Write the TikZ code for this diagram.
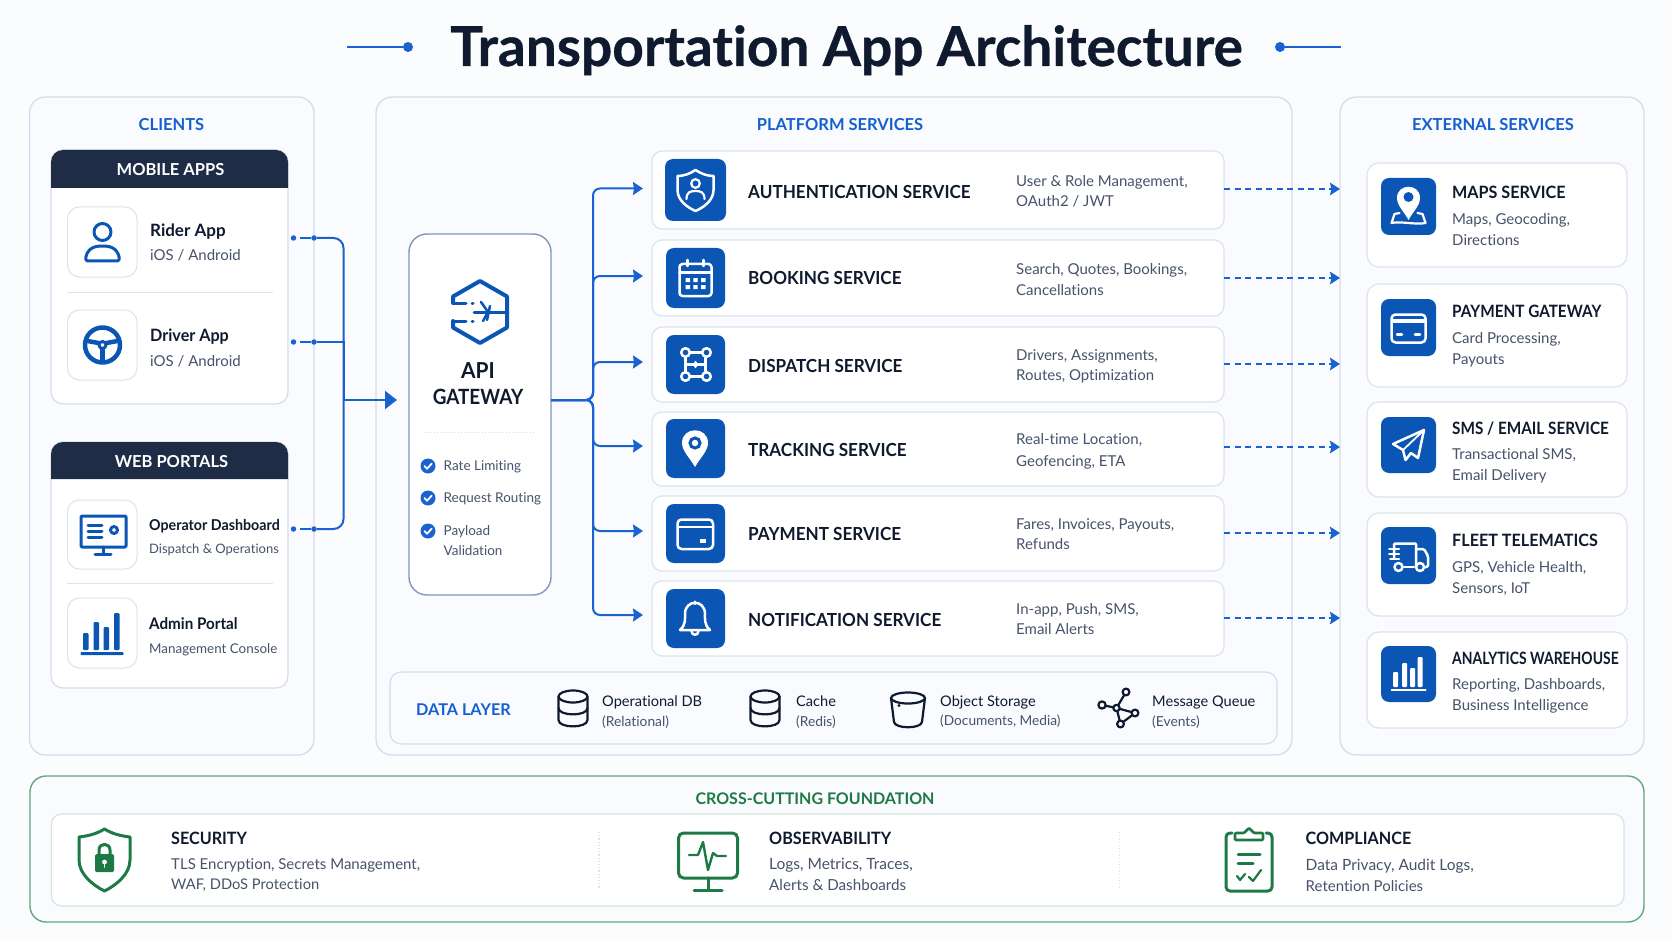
\documentclass[tikz,border=0pt]{standalone}
\usepackage{fontspec}
\setmainfont{Lato}[Ligatures=NoCommon]
\newfontfamily\cnd{Lato}[Ligatures=NoCommon,FakeStretch=0.95]
\newfontfamily\cndb{Lato}[Ligatures=NoCommon,FakeStretch=0.9]
\newfontfamily\cndc{Lato}[Ligatures=NoCommon,FakeStretch=0.82]
\newfontfamily\heavy{Lato}[Ligatures=NoCommon,FakeBold=0.6]
\usetikzlibrary{arrows.meta,calc}
\definecolor{pagebg}{HTML}{FBFCFE}
\definecolor{panelbg}{HTML}{F9FBFE}
\definecolor{panelln}{HTML}{D5DCEA}
\definecolor{cardln}{HTML}{DDE2EE}
\definecolor{iconblue}{HTML}{0B55B5}
\definecolor{linkblue}{HTML}{1A62D0}
\definecolor{headblue}{HTML}{1560D0}
\definecolor{ink}{HTML}{0F1A2E}
\definecolor{slate}{HTML}{47526B}
\definecolor{hdrnavy}{HTML}{1E2D45}
\definecolor{gwln}{HTML}{7F96C0}
\definecolor{green}{HTML}{1E7A45}
\definecolor{greenln}{HTML}{62A77F}
\definecolor{greenin}{HTML}{D6E5DE}
\newcounter{tc}
\newcommand\txtw[6]{\stepcounter{tc}\node[anchor=base west,inner sep=0pt,text=#4,font={\fontsize{#3}{#3}\selectfont #5}] (t\arabic{tc}) at (#1,{#2+0.4*#3}) {#6};}
\newcommand\txtc[6]{\stepcounter{tc}\node[anchor=base,inner sep=0pt,text=#4,font={\fontsize{#3}{#3}\selectfont #5}] (t\arabic{tc}) at (#1,{#2+0.4*#3}) {#6};}
\newcommand\boxn[6]{\node[#6,minimum width={(#4-#2)*1pt},minimum height={(#5-#3)*1pt}] (#1) at ({(#2+#4)/2},{(#3+#5)/2}) {};}
\newcommand\svc[5]{% name, y1,y2, title, title y
 \boxn{#1}{652}{#2}{1224}{#3}{cardbox,rounded corners=10pt}
 \txtw{748}{#5}{18}{ink}{\cnd\bfseries}{#4}}
\newcommand\dsc[2]{\txtw{1016}{#1}{15}{slate}{}{#2}}
\newcommand\extdy{13}
\newcommand\ext[9]{% name,y1,y2,iy1,iy2,title,d1,d2,offset base
 \boxn{#1}{1367}{#2}{1627}{#3}{cardbox,rounded corners=12pt}
 \boxn{#1i}{1381}{#4}{1436}{#5}{iconbox}
 \txtw{1452}{#4+\extdy}{17}{ink}{\cnd\bfseries}{#6}
 \txtw{1452}{#4+#9}{15}{slate}{}{#7}
 \txtw{1452}{#4+#9+21}{15}{slate}{}{#8}}
\newcommand\bluecyl[1]{\begin{scope}[shift={(#1)},dk]
 \draw (0,-11.5) ellipse [x radius=14.5,y radius=6];
 \draw (-14.5,-11.5) -- (-14.5,12) .. controls (-14.5,20.5) and (14.5,20.5) .. (14.5,12) -- (14.5,-11.5);
 \draw (-14.5,0) .. controls (-14.5,8.5) and (14.5,8.5) .. (14.5,0);
\end{scope}}
\tikzset{
 panel/.style={draw=panelln,fill=panelbg,line width=1.3pt,rounded corners=16pt,inner sep=0pt,outer sep=0pt},
 cardbox/.style={draw=cardln,fill=white,line width=1.2pt,inner sep=0pt,outer sep=0pt},
 appbox/.style={draw=cardln,fill=white,line width=1pt,rounded corners=12pt,inner sep=0pt,outer sep=0pt},
 iconbox/.style={fill=iconblue,rounded corners=8pt,inner sep=0pt,outer sep=0pt},
 flow/.style={draw=linkblue,line width=2pt},
 tipA/.style={-{Stealth[length=10pt,width=13pt,inset=1pt]}},
 dashflow/.style={draw=linkblue,line width=1.9pt,dash pattern=on 6pt off 4.5pt,-{Stealth[length=10pt,width=12.5pt,inset=1.5pt]}},
 dotn/.style={circle,fill=linkblue,inner sep=0pt,minimum size=5.5pt,outer sep=0pt},
 bl/.style={draw=iconblue,line width=3pt,line cap=round,line join=round},
 wh/.style={draw=white,line width=2.5pt,line cap=round,line join=round},
 dk/.style={draw=ink,line width=2.2pt,line cap=round,line join=round},
 gr/.style={draw=green,line width=3pt,line cap=round,line join=round},
}
\begin{document}
\begin{tikzpicture}[x=1pt,y=-1pt]
\useasboundingbox (0,0) rectangle (1672,941);
\fill[pagebg] (0,0) rectangle (1672,941);
% title
\txtc{846.5}{44}{55}{ink}{\heavy\bfseries}{Transportation App Architecture}
\node[circle,fill=linkblue,inner sep=0pt,minimum size=10pt] (tl) at (408,47) {};
\node[circle,fill=linkblue,inner sep=0pt,minimum size=10pt] (tr) at (1280,47) {};
\coordinate (tle) at (347,47); \coordinate (tre) at (1341,47);
\draw[flow] (tle) -- (tl); \draw[flow] (tr) -- (tre);
% panels
\boxn{clients}{29.5}{97}{314}{755}{panel}
\boxn{platform}{376}{97}{1292}{755}{panel}
\boxn{external}{1340}{97}{1644}{755}{panel}
\txtc{171.5}{124}{16.5}{headblue}{\bfseries}{CLIENTS}
\txtc{840}{124}{16.5}{headblue}{\bfseries}{PLATFORM SERVICES}
\txtc{1493}{124}{16.5}{headblue}{\bfseries}{EXTERNAL SERVICES}
% mobile
\boxn{mobile}{51}{150}{288}{404}{draw=panelln,fill=white,line width=1.2pt,rounded corners=12pt,inner sep=0pt}
\fill[hdrnavy] (51,188) {[rounded corners=12pt] -- (51,150) -- (288,150)} -- (288,188) -- cycle;
\txtc{170.5}{169}{16.5}{white}{\bfseries}{MOBILE APPS}
\boxn{rider}{67.5}{207}{137}{277}{appbox}
\boxn{driver}{67.5}{310}{137}{380}{appbox}
\draw[draw=cardln,line width=1pt] (67,292) -- (273,292);
\txtw{150}{230}{17}{ink}{\bfseries}{Rider App}
\txtw{150}{255}{15}{slate}{}{iOS / Android}
\txtw{150}{335}{17}{ink}{\cnd\bfseries}{Driver App}
\txtw{150}{360}{15}{slate}{}{iOS / Android}
% web
\boxn{web}{51}{442}{288}{688}{draw=panelln,fill=white,line width=1.2pt,rounded corners=12pt,inner sep=0pt}
\fill[hdrnavy] (51,479) {[rounded corners=12pt] -- (51,442) -- (288,442)} -- (288,479) -- cycle;
\txtc{171.5}{461}{16.5}{white}{\bfseries}{WEB PORTALS}
\boxn{oper}{67.5}{500}{137}{569}{appbox}
\boxn{admin}{67.5}{598}{137}{668}{appbox}
\draw[draw=cardln,line width=1pt] (67,583) -- (273,583);
\txtw{149}{524.5}{15}{ink}{\cnd\bfseries}{Operator Dashboard}
\txtw{149}{548}{13}{slate}{}{Dispatch \& Operations}
\txtw{149}{623}{16}{ink}{\cnd\bfseries}{Admin Portal}
\txtw{149}{648}{13.4}{slate}{}{Management Console}
% client icons
\begin{scope}[shift={(102.5,242)},bl]
 \draw (0,-10) circle [radius=8.5];
 \draw (-15,19) -- (15,19) .. controls (18,19) and (17,12) .. (13,8) .. controls (10,5) and (6,4) .. (0,4) .. controls (-6,4) and (-10,5) .. (-13,8) .. controls (-17,12) and (-18,19) .. (-15,19) -- cycle;
\end{scope}
\begin{scope}[shift={(102.5,345)},bl]
 \draw[line width=4.5pt] (0,0) circle [radius=17.5];
 \draw (0,0) circle [radius=3.5];
 \draw[line width=4.5pt] (-15,-4) -- (-4,-2); \draw[line width=4.5pt] (15,-4) -- (4,-2); \draw[line width=4.5pt] (0,5) -- (0,15);
\end{scope}
\begin{scope}[bl]
 \draw[rounded corners=1pt] (81,516) rectangle (126,547);
 \draw (103,547) -- (103,553); \draw (95,554.5) -- (111,554.5);
 \draw (88,525) -- (102,525); \draw (88,531) -- (102,531); \draw (88,537) -- (102,537);
 \draw (114,530) circle [radius=3.5];
\end{scope}
\fill[iconblue,rounded corners=1pt] (83,633) rectangle (88.5,650) (93.5,622) rectangle (99,650) (103.5,627) rectangle (109,650) (114,613) rectangle (119.5,650);
\fill[iconblue,rounded corners=1pt] (80.5,652) rectangle (123.5,655);
% gateway
\boxn{gw}{409}{234}{551}{595}{draw=gwln,fill=white,line width=1.4pt,rounded corners=18pt,inner sep=0pt,outer sep=0pt}
\begin{scope}[shift={(480,312)},bl,line width=4pt]
 \draw (-27,-9) -- (-27,-15.5) -- (0,-31) -- (27,-15.5) -- (27,15.5) -- (0,31) -- (-27,15.5) -- (-27,9);
 \draw[line width=3pt] (-27,-9) -- (-14,-9); \draw[line width=3pt] (-27,9) -- (-14,9);
 \draw[line width=3pt] (-8,-9) -- (-7,-9); \draw[line width=3pt] (-8,9) -- (-7,9);
 \draw[line width=3pt] (-6,0) -- (27,0);
 \draw[line width=2.5pt] (1,-10) -- (8,0) -- (3,9); \draw[line width=2.5pt] (10,-6) -- (7,8);
\end{scope}
\txtc{478}{370}{22}{ink}{\cnd\bfseries}{API}
\txtc{478}{396}{21}{ink}{\cndb\bfseries}{GATEWAY}
\draw[draw=panelln,line width=1pt,dotted] (425,432) -- (534,432);
\foreach \yy/\nn in {466/c1,498/c2,531/c3}{
 \node[circle,fill=linkblue,inner sep=0pt,minimum size=15pt] (\nn) at (428,\yy) {};
 \draw[white,line width=1.8pt,line cap=round,line join=round] (424.5,\yy) -- (427,\yy+2.8) -- (431.8,\yy-2.5);
}
\txtw{443.5}{465.5}{13.5}{slate}{}{Rate Limiting}
\txtw{443.5}{497.5}{13.5}{slate}{}{Request Routing}
\txtw{443.5}{530.5}{13.5}{slate}{}{Payload}
\txtw{443.5}{550}{13.5}{slate}{}{Validation}
% services
\svc{auth}{151}{229}{AUTHENTICATION SERVICE}{191}
\dsc{181}{User \& Role Management,}\dsc{201}{OAuth2 / JWT}
\svc{book}{240}{316}{BOOKING SERVICE}{277}
\dsc{268.5}{Search, Quotes, Bookings,}\dsc{289}{Cancellations}
\svc{disp}{327}{402}{DISPATCH SERVICE}{365}
\dsc{354}{Drivers, Assignments,}\dsc{374.5}{Routes, Optimization}
\svc{track}{412}{486}{TRACKING SERVICE}{449}
\dsc{438.5}{Real-time Location,}\dsc{460}{Geofencing, ETA}
\svc{pay}{496}{571}{PAYMENT SERVICE}{533}
\dsc{523}{Fares, Invoices, Payouts,}\dsc{543.5}{Refunds}
\svc{notif}{581}{656}{NOTIFICATION SERVICE}{619}
\dsc{608}{In-app, Push, SMS,}\dsc{628.5}{Email Alerts}
\boxn{authi}{665}{159}{726}{221}{iconbox}
\boxn{booki}{666}{248}{725}{308}{iconbox}
\boxn{dispi}{666}{335}{725}{394}{iconbox}
\boxn{tracki}{666}{419}{725}{478}{iconbox}
\boxn{payi}{666}{504}{725}{563}{iconbox}
\boxn{notifi}{666}{589}{725}{648}{iconbox}
% service icons
\begin{scope}[shift={(695.5,190)},wh]
 \draw (0,-20) .. controls (6,-16) and (12,-14) .. (18,-14) -- (18,0) .. controls (18,10) and (9,17) .. (0,21) .. controls (-9,17) and (-18,10) .. (-18,0) -- (-18,-14) .. controls (-12,-14) and (-6,-16) .. (0,-20) -- cycle;
 \draw[line width=2.2pt] (0,-6.5) circle [radius=4.3];
 \draw[line width=2.2pt] (-9,9) .. controls (-9,2) and (-5,1) .. (0,1) .. controls (5,1) and (9,2) .. (9,9);
\end{scope}
\begin{scope}[shift={(695.5,278)},wh]
 \draw[rounded corners=3pt] (-16,-14) rectangle (16,18);
 \draw (-16,-5.5) -- (16,-5.5);
 \draw (-8,-18) -- (-8,-12); \draw (8,-18) -- (8,-12);
 \fill[white] (-10,0) rectangle (-5.5,4) (-2.2,0) rectangle (2.2,4) (5.5,0) rectangle (10,4) (-10,7) rectangle (-5.5,11) (-2.2,7) rectangle (2.2,11) (5.5,7) rectangle (10,11);
\end{scope}
\begin{scope}[shift={(695.5,364.5)},wh]
 \draw (-5,-12) -- (6,-12); \draw (-5,12) -- (6,12);
 \draw (-10,-7) -- (-10,7); \draw (10,-7) -- (10,7);
 \draw (-10,0) -- (10,0); \draw[line width=3.5pt] (0,-2) -- (0,2);
 \draw (-10,-12) circle [radius=4.3]; \draw (11,-12) circle [radius=4.3];
 \draw (-10,12) circle [radius=4.3]; \draw (11,12) circle [radius=4.3];
\end{scope}
\begin{scope}[shift={(695,443)}]
 \fill[white] (0,24) .. controls (-5,15) and (-13,8) .. (-13,0) .. controls (-13,-17) and (13,-17) .. (13,0) .. controls (13,8) and (5,15) .. (0,24) -- cycle;
 \draw[iconblue,line width=3pt] (0,0) circle [radius=5];
\end{scope}
\begin{scope}[wh]
 \draw[rounded corners=4pt] (677.5,519.5) rectangle (713,549);
 \draw (677.5,527) -- (713,527);
 \fill[white] (700,539) rectangle (706,543);
\end{scope}
\begin{scope}[shift={(695,618)},wh]
 \draw (-15,12) .. controls (-9,7) and (-10,0) .. (-10,-4) .. controls (-10,-19) and (10,-19) .. (10,-4) .. controls (10,0) and (9,7) .. (15,12) -- cycle;
 \draw (0,-14) -- (0,-16.5);
 \draw (-3.5,13) .. controls (-3.5,18) and (3.5,18) .. (3.5,13);
\end{scope}
% external
\renewcommand\extdy{13.5}
\ext{maps}{163}{267}{178}{235}{MAPS SERVICE}{Maps, Geocoding,}{Directions}{40.5}
\renewcommand\extdy{12}
\ext{pgw}{284}{387}{299}{356}{\cndb\bfseries PAYMENT GATEWAY}{Card Processing,}{Payouts}{38.5}
\renewcommand\extdy{10.5}
\ext{sms}{402}{497}{417}{473}{\cndb\bfseries SMS / EMAIL SERVICE}{Transactional SMS,}{Email Delivery}{36.5}
\renewcommand\extdy{12.5}
\ext{fleet}{513}{616}{527}{584}{FLEET TELEMATICS}{GPS, Vehicle Health,}{Sensors, IoT}{39.5}
\renewcommand\extdy{12}
\ext{ana}{632}{728}{646}{702}{\cndc\bfseries ANALYTICS WAREHOUSE}{Reporting, Dashboards,}{Business Intelligence}{37.5}
% external icons
\begin{scope}[shift={(1408.5,198)}]
 \fill[white] (0,22) .. controls (-4,14) and (-11.5,8) .. (-11.5,0) .. controls (-11.5,-15) and (11.5,-15) .. (11.5,0) .. controls (11.5,8) and (4,14) .. (0,22) -- cycle;
 \fill[iconblue] (0,-1) circle [radius=5];
 \draw[wh,line width=2.2pt] (-9,15) -- (-14,16) -- (-17,25) .. controls (-8,23) and (8,27) .. (17,25) -- (14,16) -- (9,15);
\end{scope}
\begin{scope}[wh]
 \draw[rounded corners=4pt] (1391.5,314.5) rectangle (1425.5,342.5);
 \draw[line width=4pt,line cap=butt] (1391.5,320.5) -- (1425.5,320.5);
 \draw (1397,334.5) -- (1402,334.5); \draw (1415,334.5) -- (1420,334.5);
 \draw (1424,430) -- (1393,444) -- (1403,450) -- (1405.5,460) -- (1411,453) -- (1418,458) -- cycle;
 \draw[line width=1.8pt] (1424,430) -- (1403,450);
 \draw[rounded corners=1pt] (1394,558) -- (1394,543.5) -- (1416,543.5) -- (1416,567);
 \draw (1404,567) -- (1414,567);
 \draw[rounded corners=1.5pt] (1416,549) -- (1424,549) -- (1428,556) -- (1428,567) -- (1425,567);
 \draw[line width=2pt] (1389,549) -- (1399,549); \draw[line width=2pt] (1389,554) -- (1399,554); \draw[line width=2pt] (1390,559) -- (1399,559);
 \draw (1398.5,567) circle [radius=4]; \draw (1420,567) circle [radius=4];
 \draw[line width=2pt] (1391.5,690) -- (1425.5,690);
\end{scope}
\fill[white,rounded corners=1pt] (1393,672) rectangle (1398,687) (1402,663) rectangle (1407,687) (1410,668) rectangle (1415,687) (1417.5,657) rectangle (1422.5,687);
% data layer
\boxn{data}{390}{672}{1277}{744}{draw=panelln,fill=panelbg,line width=1.2pt,rounded corners=11pt,inner sep=0pt,outer sep=0pt}
\txtw{416}{709}{16.2}{headblue}{\bfseries}{DATA LAYER}
\bluecyl{573,708}
\bluecyl{765,708}
\txtw{602}{701}{14.6}{ink}{}{Operational DB}
\txtw{602}{720.5}{13.8}{slate}{}{(Relational)}
\txtw{796}{701}{14.6}{ink}{}{Cache}
\txtw{796}{720.5}{13.8}{slate}{}{(Redis)}
\txtw{940}{701}{14.6}{ink}{}{Object Storage}
\txtw{940}{720.5}{13.7}{slate}{}{(Documents, Media)}
\txtw{1152}{701}{14.6}{ink}{}{Message Queue}
\txtw{1152}{720.5}{13.8}{slate}{}{(Events)}
\begin{scope}[shift={(908,708)},dk]
 \draw (0,-10) ellipse [x radius=17,y radius=5.5];
 \draw (-17,-10) -- (-14,14) .. controls (-13,21) and (13,21) .. (14,14) -- (17,-10);
 \fill[ink] (-9,-2.5) circle [radius=1.6];
\end{scope}
\begin{scope}[dk]
 \draw (1116.5,708) -- (1126,692) (1102,705) -- (1116.5,708) -- (1135,713) -- (1120.5,724) -- (1116.5,708);
 \foreach \p/\r in {{1126,692}/3.4,{1102,705}/3.6,{1116.5,708}/3.2,{1135,713}/3.4,{1120.5,724}/3.4}
  \filldraw[fill=panelbg] (\p) circle [radius=\r];
\end{scope}
% foundation
\boxn{found}{30}{776}{1644}{922}{draw=greenln,fill=panelbg,line width=1.4pt,rounded corners=16pt,inner sep=0pt,outer sep=0pt}
\boxn{foundin}{51.5}{814}{1624}{906}{draw=greenin,fill=white,line width=1.2pt,rounded corners=10pt,inner sep=0pt,outer sep=0pt}
\txtc{815}{798}{16}{green}{\bfseries}{CROSS-CUTTING FOUNDATION}
\draw[draw=greenin,line width=1.2pt,dotted] (599,832) -- (599,888);
\draw[draw=greenin,line width=1.2pt,dotted] (1119.5,832) -- (1119.5,888);
\txtw{171}{838}{17}{ink}{\cnd\bfseries}{SECURITY}
\txtw{171}{863.5}{15}{slate}{}{TLS Encryption, Secrets Management,}
\txtw{171}{884}{14.7}{slate}{}{WAF, DDoS Protection}
\txtw{769}{838}{17}{ink}{\cnd\bfseries}{OBSERVABILITY}
\txtw{769}{863.5}{15.5}{slate}{}{Logs, Metrics, Traces,}
\txtw{769}{884}{15.2}{slate}{}{Alerts \& Dashboards}
\txtw{1305.5}{838}{17}{ink}{\cnd\bfseries}{COMPLIANCE}
\txtw{1305.5}{864}{15.5}{slate}{}{Data Privacy, Audit Logs,}
\txtw{1305.5}{885}{15}{slate}{}{Retention Policies}
\begin{scope}[shift={(104.5,860)},gr]
 \draw (0,-31) .. controls (8,-26) and (17,-24) .. (25.5,-23) -- (25.5,0) .. controls (25.5,14) and (12,25) .. (0,31) .. controls (-12,25) and (-25.5,14) .. (-25.5,0) -- (-25.5,-23) .. controls (-17,-24) and (-8,-26) .. (0,-31) -- cycle;
 \fill[green,rounded corners=1.5pt] (-9.5,-6) rectangle (9.5,12);
 \draw[line width=3pt] (-5.5,-6) -- (-5.5,-10) .. controls (-5.5,-17.5) and (5.5,-17.5) .. (5.5,-10) -- (5.5,-6);
 \fill[white] (0,2) circle [radius=2.4]; \draw[white,line width=1.8pt] (0,2) -- (0,7);
\end{scope}
\begin{scope}[gr]
 \draw[rounded corners=5pt] (678.5,833) rectangle (737.5,878);
 \draw (708,878) -- (708,889); \draw (694,890) -- (722,890);
 \draw[line width=2.4pt] (689,855) -- (698,855) -- (703,842) -- (708,870) -- (713,853) -- (717,856) -- (726,856);
 \draw[rounded corners=4pt] (1232,833) -- (1226,833) -- (1226,891) -- (1272,891) -- (1272,833) -- (1266,833);
 \draw[line width=2.6pt,rounded corners=1pt] (1235,840) -- (1263,840) -- (1263,833) -- (1254,833) -- (1249,828) -- (1244,833) -- (1235,833) -- cycle;
 \draw (1238,854) -- (1260,854); \draw (1238,863) -- (1253,863);
 \draw[line width=2.2pt] (1237,876) -- (1240,880) -- (1245,874); \draw[line width=2.2pt] (1249,877) -- (1253,881) -- (1261,870);
\end{scope}
% connectors: clients to gateway
\node[dotn] (d1) at (293.5,238) {}; \node[dotn] (d2) at (293.5,342) {}; \node[dotn] (d3) at (293.5,529) {};
\node[dotn] (e1) at (314,238) {}; \node[dotn] (e2) at (314,342) {}; \node[dotn] (e3) at (314,529) {};
\coordinate (mid) at (343.5,400);
\coordinate (bus) at (593,400);
\draw[flow,shorten <=4pt] (d1) -- (e1);
\draw[flow,shorten <=4pt] (d2) -- (e2);
\draw[flow,shorten <=4pt] (d3) -- (e3);
\draw[flow,rounded corners=10pt] (e1) -| (mid);
\draw[flow] (e2) -| (mid);
\draw[flow,rounded corners=10pt] (e3) -| (mid);
\draw[flow,-{Stealth[length=12pt,width=18pt,inset=0pt]},shorten >=12pt] (mid) -- (gw.west |- mid);
% gateway to services
\foreach \n/\s in {auth/1.5,book/2,disp/2.5,track/3,pay/2.5,notif/3.5}{
 \draw[flow,tipA,rounded corners=7pt,shorten >=9pt] (gw.east |- bus) -- (bus) |- ([yshift=\s pt]\n.west);
}
% services to external
\foreach \n/\s in {auth/1,book/0,disp/0.5,track/2,pay/0.5,notif/0.5}{
 \draw[dashflow] ([yshift=\s pt]\n.east) -- ([yshift=\s pt]external.west |- \n.east);
}
\end{tikzpicture}
\end{document}
